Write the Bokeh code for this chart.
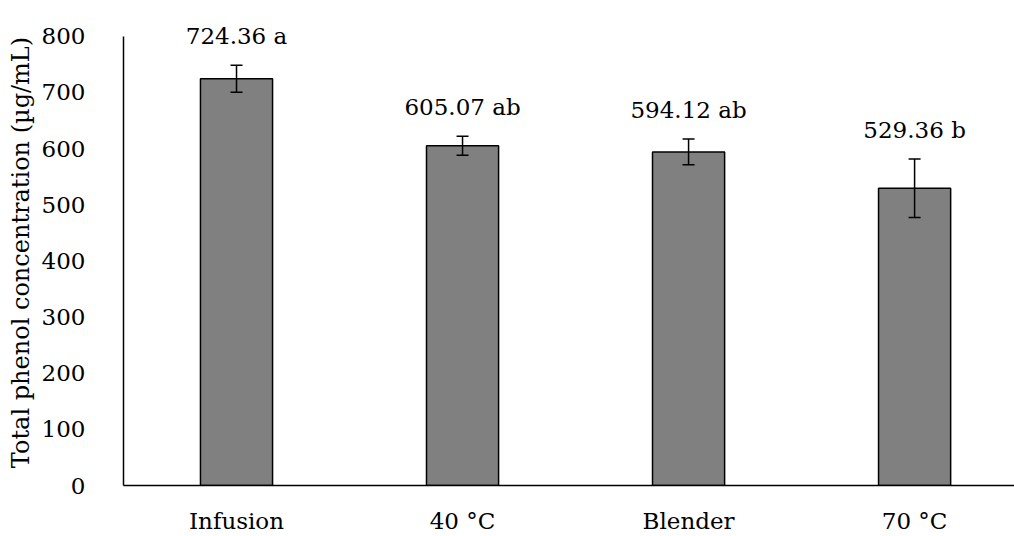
from bokeh.plotting import figure
from bokeh.models import ColumnDataSource, Whisker, FixedTicker, Range1d, TeeHead
from bokeh.embed import file_html
from bokeh.resources import INLINE
from bokeh.core.properties import value

categories = ["Infusion", "40 °C", "Blender", "70 °C"]
values = [724.36, 605.07, 594.12, 529.36]
errors = [24, 17, 23, 52]
letters = ["a", "ab", "ab", "b"]
y_ticks = [0, 100, 200, 300, 400, 500, 600, 700, 800]

FONT = "DejaVu Serif"
FS = "23px"
xs = list(range(len(categories)))
src = ColumnDataSource(dict(
    x=xs,
    top=values,
    upper=[v + e for v, e in zip(values, errors)],
    lower=[v - e for v, e in zip(values, errors)],
    label=[f"{v:.2f} {l}" for v, l in zip(values, letters)],
))

p = figure(width=1014, height=536, output_backend="svg", toolbar_location=None,
           x_range=Range1d(-0.5, 3.442), y_range=Range1d(0, 830),
           min_border_left=123, min_border_right=0, min_border_top=19, min_border_bottom=49)
p.outline_line_color = None
p.xgrid.visible = False
p.ygrid.visible = False

p.vbar(x="x", top="top", width=0.319, bottom=0, source=src,
       fill_color="#808080", line_color="black", line_width=1.5)

w = Whisker(base="x", upper="upper", lower="lower", source=src, level="overlay",
            line_color="black", line_width=1.5,
            upper_head=TeeHead(size=12, line_color="black", line_width=1.5),
            lower_head=TeeHead(size=12, line_color="black", line_width=1.5))
p.add_layout(w)

p.text(x="x", y="upper", text="label", source=src, text_align="center",
       text_baseline="bottom", y_offset=-16, text_font=value(FONT),
       text_font_size=FS, text_color="black")

p.xaxis.ticker = FixedTicker(ticks=xs)
p.xaxis.major_label_overrides = {i: c for i, c in enumerate(categories)}
p.yaxis.ticker = FixedTicker(ticks=y_ticks)
p.yaxis.bounds = (0, 800)
for ax in (p.xaxis, p.yaxis):
    ax.major_tick_line_color = None
    ax.minor_tick_line_color = None
    ax.major_tick_out = 0
    ax.major_tick_in = 0
    ax.minor_tick_out = 0
    ax.axis_line_color = "black"
    ax.axis_line_width = 1.5
    ax.major_label_text_font = FONT
    ax.major_label_text_font_size = FS
    ax.major_label_text_color = "black"
p.xaxis.major_label_standoff = 22
p.yaxis.major_label_standoff = 38
p.yaxis.axis_label = "Total phenol concentration (µg/mL)"
p.yaxis.axis_label_text_font = FONT
p.yaxis.axis_label_text_font_size = "24px"
p.yaxis.axis_label_text_font_style = "normal"
p.yaxis.axis_label_text_color = "black"
p.yaxis.axis_label_standoff = 4

open("out.html", "w").write(file_html(p, INLINE))
